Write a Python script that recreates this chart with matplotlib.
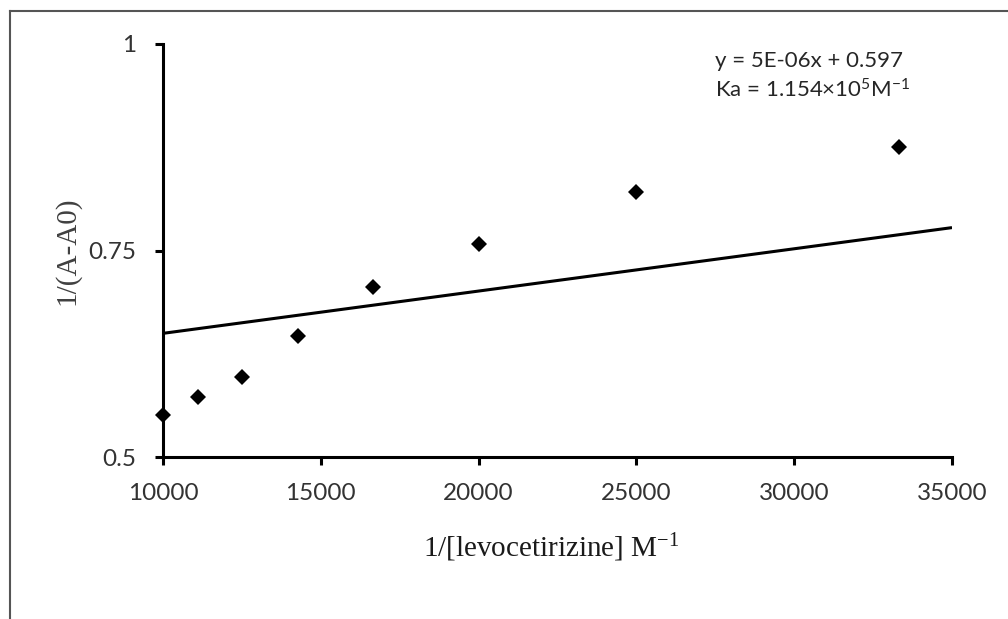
import matplotlib
matplotlib.use("Agg")
import matplotlib.pyplot as plt
from matplotlib.lines import Line2D

# datos
x_vals = [10000, 11111, 12500, 14286, 16667, 20000, 25000, 33333]
y_vals = [0.551, 0.573, 0.597, 0.646, 0.706, 0.758, 0.821, 0.875]

# recta de ajuste (tal como se dibuja)
pendiente = 5.12e-6
ordenada = 0.5985
x_recta = [10000, 35000]

x_ticks = [10000, 15000, 20000, 25000, 30000, 35000]
y_ticks = [0.5, 0.75, 1]
y_tick_labels = ["0.5", "0.75", "1"]

ecuacion = "y = 5E-06x + 0.597"
ka_texto = r"Ka = 1.154×10$\mathregular{^5}$M$\mathregular{^{-1}}$"

sans = "Lato"
serif = "Liberation Serif"

fig = plt.figure(figsize=(10.08, 6.19), dpi=100)
ax = fig.add_axes([163 / 1008, 1 - 457 / 619, (952 - 163) / 1008, (457 - 44) / 619])

y_recta = [pendiente * x + ordenada for x in x_recta]
ax.plot(x_recta, y_recta, color="black", linewidth=2.2, solid_capstyle="butt")
ax.plot(x_vals, y_vals, linestyle="none", marker="D", markersize=8,
        markeredgewidth=0, color="black", clip_on=False)

ax.set_xlim(10000, 35000)
ax.set_ylim(0.5, 1)
ax.set_xticks(x_ticks)
ax.set_yticks(y_ticks)
ax.set_yticklabels(y_tick_labels)

for lado in ["top", "right"]:
    ax.spines[lado].set_visible(False)
for lado in ["left", "bottom"]:
    ax.spines[lado].set_linewidth(2.2)
ax.tick_params(axis="both", direction="out", length=6, width=2.2,
               labelsize=17.5, labelcolor="#333333")
ax.tick_params(axis="x", pad=13)
ax.tick_params(axis="y", pad=13)
for lbl in ax.get_xticklabels() + ax.get_yticklabels():
    lbl.set_fontfamily(sans)

ax.set_xlabel(r"1/[levocetirizine] M$\mathregular{^{-1}}$", fontfamily=serif,
              fontsize=21, color="#1a1a1a", va="baseline")
ax.xaxis.set_label_coords(0.4915, -0.242)
ax.set_ylabel("1/(A-A0)", fontfamily=serif, fontsize=21, color="#404040", va="center")
ax.yaxis.set_label_coords(-0.1217, 0.5)

# texto de la ecuacion
ax.text((715 - 163) / 789, (457 - 61) / 413, ecuacion, transform=ax.transAxes,
        fontfamily=sans, fontsize=16, color="#262626", va="center", ha="left")
ax.text((715 - 163) / 789, (457 - 90) / 413, ka_texto, transform=ax.transAxes,
        fontfamily=sans, fontsize=16, color="#262626", va="center", ha="left")

# marco de la figura (solo izquierda y arriba visibles)
fig.add_artist(Line2D([10 / 1008, 10 / 1008], [0, 1 - 11 / 619],
                      transform=fig.transFigure, color="#555555", linewidth=1.5))
fig.add_artist(Line2D([10 / 1008, 1], [1 - 11 / 619, 1 - 11 / 619],
                      transform=fig.transFigure, color="#555555", linewidth=1.5))

fig.savefig("out.png", dpi=100, facecolor="white")
